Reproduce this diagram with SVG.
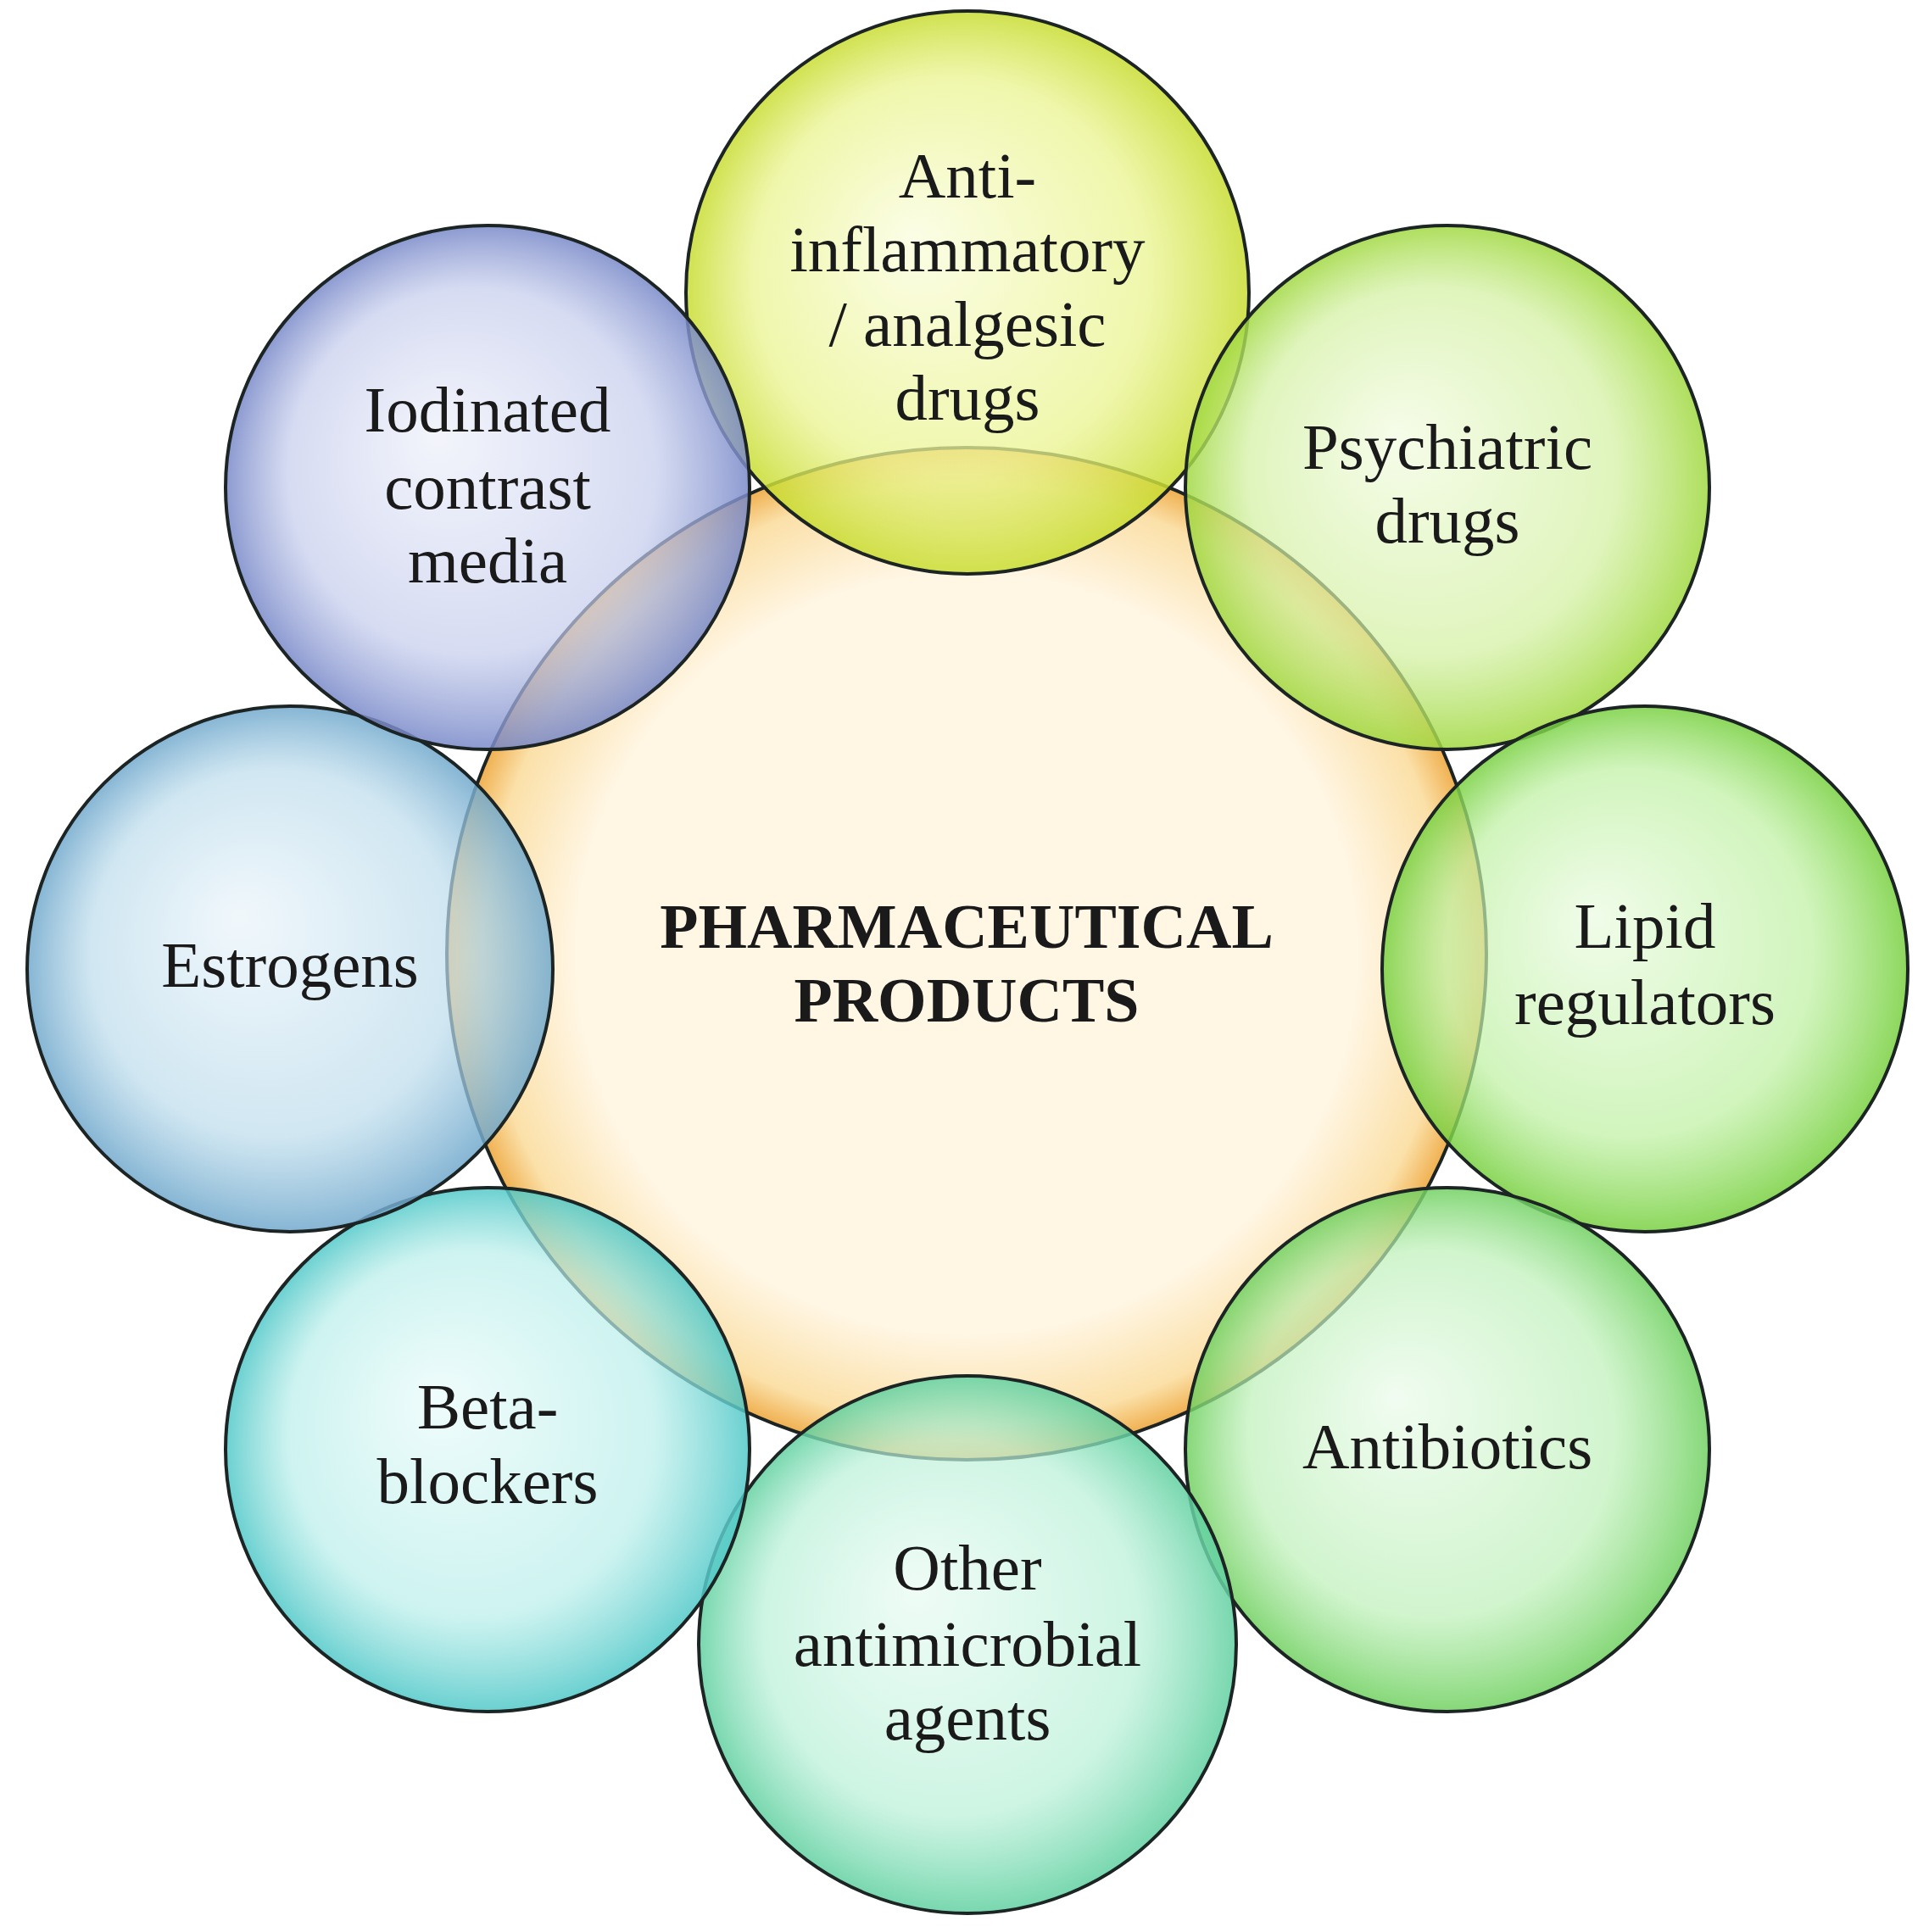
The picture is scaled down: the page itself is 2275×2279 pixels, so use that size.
<svg xmlns="http://www.w3.org/2000/svg" width="2275" height="2279" viewBox="0 0 2275 2279">
<defs>
<style>
.b{stroke:#1c2424;stroke-width:4}
text{font-family:"Liberation Serif",serif;font-size:77px;fill:#1a1a1a;text-anchor:middle}
.c{font-weight:bold;font-size:74px}
</style>
<radialGradient id="gc"><stop offset="0.75" stop-color="#fff6e4"/><stop offset="0.93" stop-color="#fbe0a8"/><stop offset="1" stop-color="#f0b050"/></radialGradient>
<radialGradient id="g1" fx="0.4" fy="0.4"><stop offset="0" stop-color="#fbfde0" stop-opacity="0.8"/><stop offset="0.7" stop-color="#eaf490" stop-opacity="0.75"/><stop offset="1" stop-color="#c8dc30" stop-opacity="0.85"/></radialGradient>
<radialGradient id="g2" fx="0.4" fy="0.4"><stop offset="0" stop-color="#f2fbe0" stop-opacity="0.7"/><stop offset="0.7" stop-color="#d2f0a0" stop-opacity="0.7"/><stop offset="1" stop-color="#a0d840" stop-opacity="0.85"/></radialGradient>
<radialGradient id="g3" fx="0.4" fy="0.4"><stop offset="0" stop-color="#eafbe0" stop-opacity="0.7"/><stop offset="0.7" stop-color="#bdf0a0" stop-opacity="0.7"/><stop offset="1" stop-color="#78d040" stop-opacity="0.85"/></radialGradient>
<radialGradient id="g4" fx="0.4" fy="0.4"><stop offset="0" stop-color="#eafbea" stop-opacity="0.7"/><stop offset="0.7" stop-color="#bdf0b8" stop-opacity="0.7"/><stop offset="1" stop-color="#70d060" stop-opacity="0.85"/></radialGradient>
<radialGradient id="g5" fx="0.4" fy="0.4"><stop offset="0" stop-color="#e8fbf2" stop-opacity="0.7"/><stop offset="0.7" stop-color="#b8f0d8" stop-opacity="0.7"/><stop offset="1" stop-color="#60d0a0" stop-opacity="0.85"/></radialGradient>
<radialGradient id="g6" fx="0.4" fy="0.4"><stop offset="0" stop-color="#e8fbfa" stop-opacity="0.7"/><stop offset="0.7" stop-color="#b8eeea" stop-opacity="0.7"/><stop offset="1" stop-color="#50c8c8" stop-opacity="0.85"/></radialGradient>
<radialGradient id="g7" fx="0.4" fy="0.4"><stop offset="0" stop-color="#eaf4fa" stop-opacity="0.7"/><stop offset="0.7" stop-color="#bcdcec" stop-opacity="0.7"/><stop offset="1" stop-color="#70a8cc" stop-opacity="0.85"/></radialGradient>
<radialGradient id="g8" fx="0.4" fy="0.4"><stop offset="0" stop-color="#eef0fa" stop-opacity="0.7"/><stop offset="0.7" stop-color="#c4ccec" stop-opacity="0.7"/><stop offset="1" stop-color="#7888c8" stop-opacity="0.85"/></radialGradient>
</defs>
<rect width="2275" height="2279" fill="#fff"/>
<g id="center"><ellipse class="b" cx="1140" cy="1125" rx="613" ry="597" fill="url(#gc)"/></g>
<g id="n1"><circle class="b" cx="1141" cy="345" r="332" fill="url(#g1)"/><text x="1141" y="233">Anti-</text><text x="1141" y="320">inflammatory</text><text x="1141" y="408">/ analgesic</text><text x="1141" y="495">drugs</text></g>
<g id="n2"><circle class="b" cx="1707" cy="575" r="309" fill="url(#g2)"/><text x="1707" y="553">Psychiatric</text><text x="1707" y="640">drugs</text></g>
<g id="n3"><circle class="b" cx="1940" cy="1143" r="310" fill="url(#g3)"/><text x="1940" y="1118">Lipid</text><text x="1940" y="1208">regulators</text></g>
<g id="n4"><circle class="b" cx="1707" cy="1710" r="309" fill="url(#g4)"/><text x="1707" y="1732">Antibiotics</text></g>
<g id="n5"><circle class="b" cx="1141" cy="1940" r="317" fill="url(#g5)"/><text x="1141" y="1875">Other</text><text x="1141" y="1965">antimicrobial</text><text x="1141" y="2052">agents</text></g>
<g id="n6"><circle class="b" cx="575" cy="1710" r="309" fill="url(#g6)"/><text x="575" y="1685">Beta-</text><text x="575" y="1773">blockers</text></g>
<g id="n7"><circle class="b" cx="342" cy="1143" r="310" fill="url(#g7)"/><text x="342" y="1164">Estrogens</text></g>
<g id="n8"><circle class="b" cx="575" cy="575" r="309" fill="url(#g8)"/><text x="575" y="509">Iodinated</text><text x="575" y="600">contrast</text><text x="575" y="687">media</text></g>
<g id="label"><text class="c" x="1140" y="1118">PHARMACEUTICAL</text><text class="c" x="1140" y="1205">PRODUCTS</text></g>
<g id="connectors"/>
</svg>
